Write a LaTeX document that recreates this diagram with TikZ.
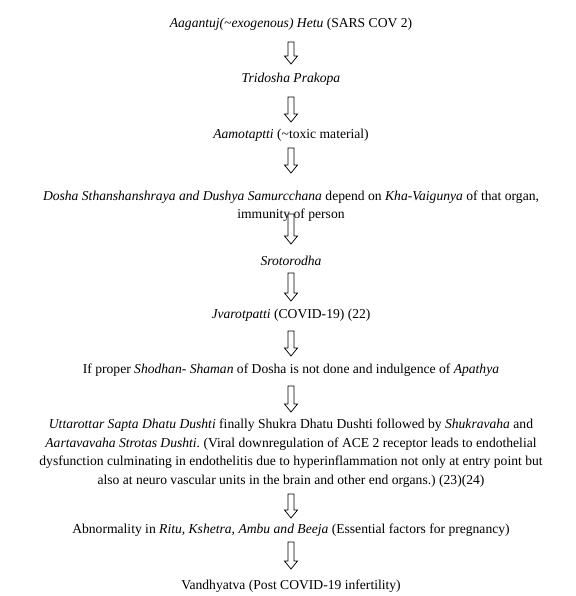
\documentclass[tikz,border=0pt]{standalone}
\usepackage{fontspec}
\setmainfont{Liberation Serif}
\usetikzlibrary{calc}
\frenchspacing
\tikzset{
  txt/.style={inner sep=0pt, align=center, font=\fontsize{13.6}{18.5}\selectfont},
  hollow/.style={draw=black, line width=0.75pt, fill=white, line join=miter,
    to path={let \p1=(\tikztostart), \p2=(\tikztotarget) in
      (\x1-3pt,\y1) -- (\x1+3pt,\y1) -- (\x1+3pt,\y2+8pt) -- (\x1+6.5pt,\y2+8pt)
      -- (\x1,\y2) -- (\x1-6.5pt,\y2+8pt) -- (\x1-3pt,\y2+8pt) -- cycle}}
}
\begin{document}
\begin{tikzpicture}[x=1pt,y=-1pt]
\useasboundingbox[fill=white] (0,0) rectangle (575,596);
\node[txt] (t1) at (291,24) {\textit{Aagantuj(\textasciitilde exogenous) Hetu} (SARS COV 2)};
\node[txt] (t2) at (291,79) {\textit{Tridosha Prakopa}};
\node[txt] (t3) at (291,135) {\textit{Aamotaptti} (\textasciitilde toxic material)};
\node[txt] (t4) at (291,206) {\textit{Dosha Sthanshanshraya and Dushya Samurcchana} depend on \textit{Kha-Vaigunya} of that organ,\\ immunity of person};
\node[txt] (t5) at (291,261) {\textit{Srotorodha}};
\node[txt] (t6) at (291,315) {\textit{Jvarotpatti} (COVID-19) (22)};
\node[txt] (t7) at (291,370) {If proper \textit{Shodhan- Shaman} of Dosha is not done and indulgence of \textit{Apathya}};
\node[txt] (t8) at (291,453) {\textit{Uttarottar Sapta Dhatu Dushti} finally Shukra Dhatu Dushti followed by \textit{Shukravaha} and\\ \textit{Aartavavaha Strotas Dushti.} (Viral downregulation of ACE 2 receptor leads to endothelial\\ dysfunction culminating in endothelitis due to hyperinflammation not only at entry point but\\ also at neuro vascular units in the brain and other end organs.) (23)(24)};
\node[txt] (t9) at (291,530) {Abnormality in \textit{Ritu, Kshetra, Ambu and Beeja} (Essential factors for pregnancy)};
\node[txt] (t10) at (291,586) {Vandhyatva (Post COVID-19 infertility)};
\draw[hollow] (t1.south |- 0,42) to (t2.north |- 0,64);
\draw[hollow] (t2.south |- 0,97) to (t3.north |- 0,122);
\draw[hollow] (t3.south |- 0,148) to (t4.north |- 0,173);
\draw[hollow] (t4.south |- 0,214) to (t5.north |- 0,244);
\draw[hollow] (t5.south |- 0,273) to (t6.north |- 0,301);
\draw[hollow] (t6.south |- 0,331) to (t7.north |- 0,356);
\draw[hollow] (t7.south |- 0,386) to (t8.north |- 0,412);
\draw[hollow] (t8.south |- 0,494) to (t9.north |- 0,518);
\draw[hollow] (t9.south |- 0,542) to (t10.north |- 0,569);
\end{tikzpicture}
\end{document}
